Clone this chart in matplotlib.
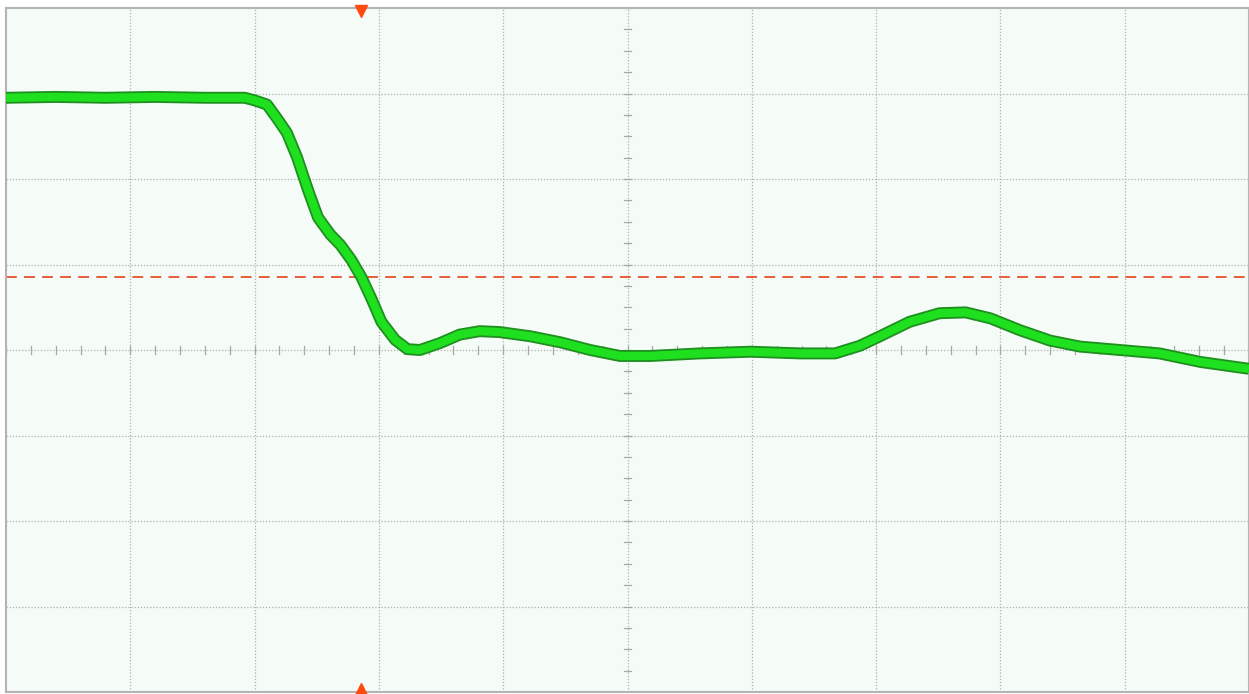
import numpy as np
import matplotlib.pyplot as plt
import matplotlib.patheffects as pe

# Scope trace, in screen divisions (10 horizontal x 8 vertical)
t_div = [0.00, 0.40, 0.80, 1.20, 1.60, 1.92, 2.00, 2.10, 2.18, 2.26, 2.34, 2.43,
         2.51, 2.61, 2.69, 2.78, 2.86, 2.94, 3.02, 3.13, 3.23, 3.33, 3.49, 3.65,
         3.81, 3.97, 4.22, 4.46, 4.70, 4.94, 5.18, 5.58, 5.99, 6.39, 6.67, 6.87,
         7.03, 7.27, 7.51, 7.72, 7.92, 8.16, 8.40, 8.64, 8.96, 9.28, 9.61, 10.00]
v_div = [2.95, 2.96, 2.95, 2.96, 2.95, 2.95, 2.92, 2.87, 2.71, 2.54, 2.26, 1.87,
         1.55, 1.35, 1.23, 1.05, 0.85, 0.60, 0.33, 0.12, 0.01, 0.00, 0.08, 0.18,
         0.22, 0.21, 0.16, 0.09, 0.00, -0.07, -0.07, -0.04, -0.02, -0.04, -0.04, 0.05,
         0.16, 0.33, 0.43, 0.44, 0.37, 0.23, 0.11, 0.04, 0.00, -0.04, -0.14, -0.22]

trigger_pos = 2.86
trigger_level = 0.85

fig = plt.figure(figsize=(12.49, 6.94), dpi=100)
ax = fig.add_axes([6 / 1249, 2 / 694, 1243 / 1249, 684 / 694])
ax.set_facecolor("#f5fbf7")
ax.set_xlim(0, 10)
ax.set_ylim(-4, 4)
ax.set_xticks([])
ax.set_yticks([])
for s in ax.spines.values():
    s.set_color("#b4b4b4")
    s.set_linewidth(1.5)

# graticule
for x in range(1, 10):
    ax.axvline(x, color="#b0b0b0", lw=0.9, ls=(0, (1, 1.5)), zorder=1)
for y in range(-3, 4):
    ax.axhline(y, color="#b0b0b0", lw=0.9, ls=(0, (1, 1.5)), zorder=1)

# minor ticks on the center axes
for x in np.arange(0, 10.01, 0.2):
    ax.plot([x, x], [-0.05, 0.05], color="#a8a8a8", lw=0.9, zorder=1)
for y in np.arange(-4, 4.01, 0.25):
    ax.plot([4.97, 5.03], [y, y], color="#a8a8a8", lw=0.9, zorder=1)

# trigger level and position markers
ax.axhline(trigger_level, color="#e8502a", lw=1.3, ls=(0, (6, 4)), zorder=2)
ax.plot([trigger_pos], [3.97], marker="v", color="#ff4a10", ms=9, clip_on=False, zorder=5)
ax.plot([trigger_pos], [-3.97], marker="^", color="#ff4a10", ms=9, clip_on=False, zorder=5)

# the waveform
ax.plot(t_div, v_div, color="#1ee01e", lw=6.0, solid_joinstyle="round",
        solid_capstyle="butt", zorder=3,
        path_effects=[pe.Stroke(linewidth=8.6, foreground="#1f8f1f"), pe.Normal()])

fig.savefig("out.png", dpi=100)
